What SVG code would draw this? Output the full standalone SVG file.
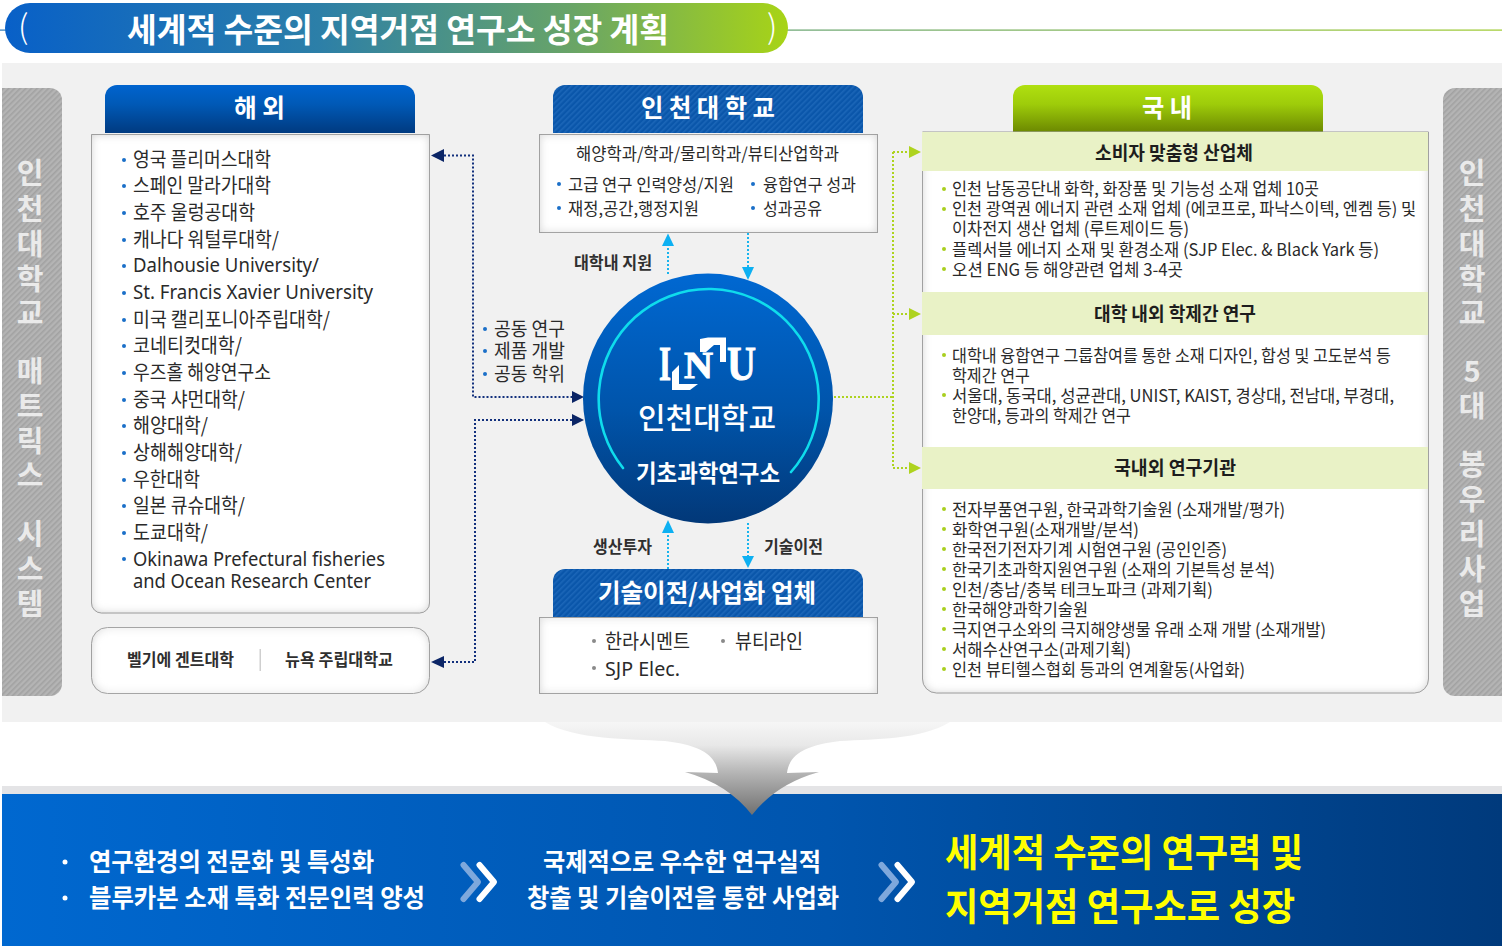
<svg xmlns="http://www.w3.org/2000/svg" width="1504" height="946" viewBox="0 0 1504 946">
<style>
text{font-family:"Noto Sans CJK KR","Noto Sans",sans-serif;fill:#2a2a2a}
.lat{font-family:"Noto Sans","Noto Sans CJK KR",sans-serif}
.li{font-size:20px}
.m{font-size:17px}
.hd{font-size:25px;font-weight:700;fill:#fff}
.bh{font-size:19px;font-weight:700;fill:#1d1d1d}
.lb{font-size:16.5px;font-weight:700;fill:#2f2f2f}
.side{font-size:29px;font-weight:700;fill:#eaeaea;text-anchor:middle}
.w{font-size:25px;font-weight:700;fill:#fff}
.y{font-size:38px;font-weight:700;fill:#ffff00}
.panel{fill:#fff;stroke:#a9a9a9;stroke-width:1;filter:url(#inner)}
.bb{fill:#1b6fc8}.bg{fill:#a9cf1f}.bk{fill:#8a8a8a}
.band{fill:#e9f2c6}
.dn{fill:none;stroke:#12307d;stroke-width:2;stroke-dasharray:2 2}
.dc{fill:none;stroke:#19b4ee;stroke-width:2;stroke-dasharray:2 2}
.dg{fill:none;stroke:#aed31f;stroke-width:2;stroke-dasharray:2 2}
.an{fill:#0b2566}.ac{fill:#0db0f2}.ag{fill:#aed31f}
.che1{fill:none;stroke:#7ea8dc;stroke-width:6;stroke-linecap:round;stroke-linejoin:round}
.che2{fill:none;stroke:#fff;stroke-width:6;stroke-linecap:round;stroke-linejoin:round}
.logo{font-family:"Liberation Serif",serif;font-weight:700;fill:#fff;stroke:#fff;stroke-width:1}
</style>
<defs>
<linearGradient id="gTitle" x1="0" x2="1" y1="0" y2="0"><stop offset="0" stop-color="#0860c8"/><stop offset=".4" stop-color="#2c7fa8"/><stop offset=".72" stop-color="#68a468"/><stop offset="1" stop-color="#a8d416"/></linearGradient>
<linearGradient id="gLine" x1="0" x2="1" y1="0" y2="0"><stop offset="0" stop-color="#2a78b8"/><stop offset="1" stop-color="#9cc92c"/></linearGradient>
<linearGradient id="gBlueH" x1="0" x2="0" y1="0" y2="1"><stop offset="0" stop-color="#0064cf"/><stop offset=".4" stop-color="#0059b6"/><stop offset="1" stop-color="#003a80"/></linearGradient>
<linearGradient id="gGreenH" x1="0" x2="0" y1="0" y2="1"><stop offset="0" stop-color="#b0e010"/><stop offset=".4" stop-color="#9ecc0a"/><stop offset="1" stop-color="#6a8600"/></linearGradient>
<linearGradient id="gCircle" x1="0" x2="0" y1="0" y2="1"><stop offset="0" stop-color="#0068d2"/><stop offset=".55" stop-color="#0054aa"/><stop offset="1" stop-color="#023878"/></linearGradient>
<linearGradient id="gBottom" x1="0" x2="1" y1="0" y2="0"><stop offset="0" stop-color="#0068d0"/><stop offset=".55" stop-color="#0055ae"/><stop offset="1" stop-color="#003a7c"/></linearGradient>
<linearGradient id="gFunnel" x1="0" x2="0" y1="722" y2="815" gradientUnits="userSpaceOnUse"><stop offset="0" stop-color="#f6f6f6"/><stop offset=".25" stop-color="#e8e8e8"/><stop offset=".55" stop-color="#b4b4b4"/><stop offset="1" stop-color="#707070"/></linearGradient>
<pattern id="hGrey" width="4" height="4" patternUnits="userSpaceOnUse" patternTransform="rotate(45)"><rect width="4" height="4" fill="#b4b4b4"/><rect width="1.6" height="4" fill="#a2a2a2"/></pattern>
<pattern id="hBlue" width="4" height="4" patternUnits="userSpaceOnUse" patternTransform="rotate(45)"><rect width="4" height="4" fill="#0a56aa"/><rect width="1.6" height="4" fill="#1b66b8"/></pattern>
<filter id="inner" x="-5%" y="-5%" width="110%" height="110%"><feComponentTransfer in="SourceAlpha" result="inv"><feFuncA type="table" tableValues="1 0"/></feComponentTransfer><feGaussianBlur in="inv" stdDeviation="5" result="b"/><feFlood flood-color="#888" flood-opacity=".55"/><feComposite in2="b" operator="in"/><feComposite in2="SourceAlpha" operator="in" result="s"/><feMerge><feMergeNode in="SourceGraphic"/><feMergeNode in="s"/></feMerge></filter>
<g id="chev"><path class="che1" d="M463.500 865L478 882L463.500 899"/><path class="che2" d="M479.500 865L494 882L479.500 899"/></g>
</defs>

<rect width="1504" height="946" fill="#fff"/>
<g id="title">
<rect x="0" y="29.500" width="1502" height="1.200" fill="url(#gLine)"/>
<rect x="5" y="3" width="783" height="50" rx="25" fill="url(#gTitle)"/>
<text x="18" y="39" font-size="33" font-weight="300" style="fill:#fff">(</text>
<text x="767" y="39" font-size="33" font-weight="300" style="fill:#fff">)</text>
<text x="127" y="42" font-size="33" font-weight="700" style="fill:#fff" textLength="542" lengthAdjust="spacingAndGlyphs">세계적 수준의 지역거점 연구소 성장 계획</text>
</g>
<rect id="stage" x="2" y="63" width="1500" height="659" fill="#f1f1f1"/>

<g id="side-left">
<path d="M2 88H50a12 12 0 0 1 12 12V684a12 12 0 0 1-12 12H2Z" fill="url(#hGrey)"/>
<text class="side" x="30" y="184">인</text><text class="side" x="30" y="220">천</text><text class="side" x="30" y="255">대</text><text class="side" x="30" y="290">학</text><text class="side" x="30" y="324">교</text><text class="side" x="30" y="382">매</text><text class="side" x="30" y="417">트</text><text class="side" x="30" y="452">릭</text><text class="side" x="30" y="486">스</text><text class="side" x="30" y="545">시</text><text class="side" x="30" y="580">스</text><text class="side" x="30" y="615">템</text>
</g>
<g id="side-right">
<path d="M1502 88H1455a12 12 0 0 0-12 12V684a12 12 0 0 0 12 12H1502Z" fill="url(#hGrey)"/>
<text class="side" x="1472" y="184">인</text><text class="side" x="1472" y="220">천</text><text class="side" x="1472" y="255">대</text><text class="side" x="1472" y="290">학</text><text class="side" x="1472" y="324">교</text><text class="side" x="1472" y="382">5</text><text class="side" x="1472" y="417">대</text><text class="side" x="1472" y="475">봉</text><text class="side" x="1472" y="510">우</text><text class="side" x="1472" y="545">리</text><text class="side" x="1472" y="580">사</text><text class="side" x="1472" y="615">업</text>
</g>

<g id="overseas">
<path d="M105 133V97a12 12 0 0 1 12-12H403a12 12 0 0 1 12 12V133Z" fill="url(#gBlueH)"/>
<text class="hd" x="234" y="117" textLength="51" lengthAdjust="spacingAndGlyphs">해 외</text>
<path class="panel" d="M91.500 134.500H429.500V603a10 10 0 0 1-10 10H101.500a10 10 0 0 1-10-10Z"/>
<g class="bb"><circle cx="124" cy="160" r="2"/><circle cx="124" cy="186" r="2"/><circle cx="124" cy="213" r="2"/><circle cx="124" cy="240" r="2"/><circle cx="124" cy="266" r="2"/><circle cx="124" cy="293" r="2"/><circle cx="124" cy="320" r="2"/><circle cx="124" cy="346" r="2"/><circle cx="124" cy="373" r="2"/><circle cx="124" cy="400" r="2"/><circle cx="124" cy="426" r="2"/><circle cx="124" cy="453" r="2"/><circle cx="124" cy="480" r="2"/><circle cx="124" cy="506" r="2"/><circle cx="124" cy="533" r="2"/><circle cx="124" cy="559" r="2"/></g>
<g>
<text class="li" x="133" y="167" textLength="138" lengthAdjust="spacingAndGlyphs">영국 플리머스대학</text>
<text class="li" x="133" y="193" textLength="138" lengthAdjust="spacingAndGlyphs">스페인 말라가대학</text>
<text class="li" x="133" y="220" textLength="122" lengthAdjust="spacingAndGlyphs">호주 울렁공대학</text>
<text class="li" x="133" y="247" textLength="146" lengthAdjust="spacingAndGlyphs">캐나다 워털루대학/</text>
<text class="li lat" x="133" y="272" textLength="186" lengthAdjust="spacingAndGlyphs">Dalhousie University/</text>
<text class="li lat" x="133" y="299" textLength="240" lengthAdjust="spacingAndGlyphs">St. Francis Xavier University</text>
<text class="li" x="133" y="327" textLength="197" lengthAdjust="spacingAndGlyphs">미국 캘리포니아주립대학/</text>
<text class="li" x="133" y="353" textLength="109" lengthAdjust="spacingAndGlyphs">코네티컷대학/</text>
<text class="li" x="133" y="380" textLength="138" lengthAdjust="spacingAndGlyphs">우즈홀 해양연구소</text>
<text class="li" x="133" y="407" textLength="112" lengthAdjust="spacingAndGlyphs">중국 샤먼대학/</text>
<text class="li" x="133" y="433" textLength="75" lengthAdjust="spacingAndGlyphs">해양대학/</text>
<text class="li" x="133" y="460" textLength="109" lengthAdjust="spacingAndGlyphs">상해해양대학/</text>
<text class="li" x="133" y="487" textLength="67" lengthAdjust="spacingAndGlyphs">우한대학</text>
<text class="li" x="133" y="513" textLength="112" lengthAdjust="spacingAndGlyphs">일본 큐슈대학/</text>
<text class="li" x="133" y="540" textLength="75" lengthAdjust="spacingAndGlyphs">도쿄대학/</text>
<text class="li lat" x="133" y="566" textLength="252" lengthAdjust="spacingAndGlyphs">Okinawa Prefectural fisheries</text>
<text class="li lat" x="133" y="588" textLength="238" lengthAdjust="spacingAndGlyphs">and Ocean Research Center</text>
</g>
</g>

<g id="overseas-2">
<rect class="panel" x="91.500" y="627.500" width="338" height="66" rx="16"/>
<text class="lb" x="127" y="666" textLength="107" lengthAdjust="spacingAndGlyphs">벨기에 겐트대학</text>
<rect x="259.500" y="649" width="1.500" height="22" fill="#cfcfcf"/>
<text class="lb" x="285" y="666" textLength="108" lengthAdjust="spacingAndGlyphs">뉴욕 주립대학교</text>
</g>

<g id="inu">
<path d="M553 133V97a12 12 0 0 1 12-12H851a12 12 0 0 1 12 12V133Z" fill="url(#hBlue)"/>
<text class="hd" x="641" y="117" textLength="134" lengthAdjust="spacingAndGlyphs">인 천 대 학 교</text>
<rect class="panel" x="539.500" y="134.500" width="338" height="98"/>
<text class="m" x="576" y="160" textLength="263" lengthAdjust="spacingAndGlyphs">해양학과/학과/물리학과/뷰티산업학과</text>
<g class="bb"><circle cx="559" cy="184" r="2"/><circle cx="559" cy="208" r="2"/><circle cx="753" cy="184" r="2"/><circle cx="753" cy="208" r="2"/></g>
<text class="m" x="568" y="191" textLength="166" lengthAdjust="spacingAndGlyphs">고급 연구 인력양성/지원</text>
<text class="m" x="568" y="215" textLength="131" lengthAdjust="spacingAndGlyphs">재정,공간,행정지원</text>
<text class="m" x="763" y="191" textLength="93" lengthAdjust="spacingAndGlyphs">융합연구 성과</text>
<text class="m" x="763" y="215" textLength="59" lengthAdjust="spacingAndGlyphs">성과공유</text>
</g>

<g id="domestic">
<path d="M1013 133V97a12 12 0 0 1 12-12H1311a12 12 0 0 1 12 12V133Z" fill="url(#gGreenH)"/>
<text class="hd" x="1142" y="117" textLength="50" lengthAdjust="spacingAndGlyphs">국 내</text>
<path class="panel" d="M922.500 132H1428.500V679a14 14 0 0 1-14 14H936.500a14 14 0 0 1-14-14Z"/>
<rect class="band" x="922" y="132" width="506" height="39"/>
<rect class="band" x="922" y="292" width="506" height="43"/>
<rect class="band" x="922" y="447" width="506" height="42"/>
<text class="bh" x="1095" y="160" textLength="158" lengthAdjust="spacingAndGlyphs">소비자 맞춤형 산업체</text>
<text class="bh" x="1094" y="321" textLength="162" lengthAdjust="spacingAndGlyphs">대학 내외 학제간 연구</text>
<text class="bh" x="1114" y="475" textLength="122" lengthAdjust="spacingAndGlyphs">국내외 연구기관</text>
<g class="bg"><circle cx="944" cy="189" r="2"/><circle cx="944" cy="209" r="2"/><circle cx="944" cy="249" r="2"/><circle cx="944" cy="269" r="2"/><circle cx="944" cy="355" r="2"/><circle cx="944" cy="395" r="2"/><circle cx="944" cy="509" r="2"/><circle cx="944" cy="529" r="2"/><circle cx="944" cy="549" r="2"/><circle cx="944" cy="569" r="2"/><circle cx="944" cy="589" r="2"/><circle cx="944" cy="609" r="2"/><circle cx="944" cy="629" r="2"/><circle cx="944" cy="649" r="2"/><circle cx="944" cy="669" r="2"/></g>
<text class="m" x="952" y="195" textLength="367" lengthAdjust="spacingAndGlyphs">인천 남동공단내 화학, 화장품 및 기능성 소재 업체 10곳</text>
<text class="m" x="952" y="215" textLength="464" lengthAdjust="spacingAndGlyphs">인천 광역권 에너지 관련 소재 업체 (에코프로, 파낙스이텍, 엔켐 등) 및</text>
<text class="m" x="952" y="235" textLength="237" lengthAdjust="spacingAndGlyphs">이차전지 생산 업체 (루트제이드 등)</text>
<text class="m" x="952" y="255.500" textLength="427" lengthAdjust="spacingAndGlyphs">플렉서블 에너지 소재 및 환경소재 (SJP Elec. &amp; Black Yark 등)</text>
<text class="m" x="952" y="275.500" textLength="231" lengthAdjust="spacingAndGlyphs">오션 ENG 등 해양관련 업체 3-4곳</text>
<text class="m" x="952" y="362" textLength="439" lengthAdjust="spacingAndGlyphs">대학내 융합연구 그룹참여를 통한 소재 디자인, 합성 및 고도분석 등</text>
<text class="m" x="952" y="382" textLength="78" lengthAdjust="spacingAndGlyphs">학제간 연구</text>
<text class="m" x="952" y="402" textLength="442" lengthAdjust="spacingAndGlyphs">서울대, 동국대, 성균관대, UNIST, KAIST, 경상대, 전남대, 부경대,</text>
<text class="m" x="952" y="422" textLength="179" lengthAdjust="spacingAndGlyphs">한양대, 등과의 학제간 연구</text>
<text class="m" x="952" y="516" textLength="333" lengthAdjust="spacingAndGlyphs">전자부품연구원, 한국과학기술원 (소재개발/평가)</text>
<text class="m" x="952" y="536" textLength="187" lengthAdjust="spacingAndGlyphs">화학연구원(소재개발/분석)</text>
<text class="m" x="952" y="556" textLength="275" lengthAdjust="spacingAndGlyphs">한국전기전자기계 시험연구원 (공인인증)</text>
<text class="m" x="952" y="576" textLength="323" lengthAdjust="spacingAndGlyphs">한국기초과학지원연구원 (소재의 기본특성 분석)</text>
<text class="m" x="952" y="596" textLength="261" lengthAdjust="spacingAndGlyphs">인천/충남/충북 테크노파크 (과제기획)</text>
<text class="m" x="952" y="616" textLength="136" lengthAdjust="spacingAndGlyphs">한국해양과학기술원</text>
<text class="m" x="952" y="636" textLength="374" lengthAdjust="spacingAndGlyphs">극지연구소와의 극지해양생물 유래 소재 개발 (소재개발)</text>
<text class="m" x="952" y="656" textLength="179" lengthAdjust="spacingAndGlyphs">서해수산연구소(과제기획)</text>
<text class="m" x="952" y="676" textLength="293" lengthAdjust="spacingAndGlyphs">인천 뷰티헬스협회 등과의 연계활동(사업화)</text>
</g>

<g id="company">
<path d="M553 617V581a12 12 0 0 1 12-12H851a12 12 0 0 1 12 12V617Z" fill="url(#hBlue)"/>
<text class="hd" x="598" y="602" textLength="218" lengthAdjust="spacingAndGlyphs">기술이전/사업화 업체</text>
<rect class="panel" x="539.500" y="617.500" width="338" height="76"/>
<g class="bk"><circle cx="594" cy="641" r="2"/><circle cx="723" cy="641" r="2"/><circle cx="594" cy="668" r="2"/></g>
<text class="li" x="605" y="649" textLength="85" lengthAdjust="spacingAndGlyphs">한라시멘트</text>
<text class="li" x="735" y="649" textLength="68" lengthAdjust="spacingAndGlyphs">뷰티라인</text>
<text class="li lat" x="605" y="675.500" textLength="75" lengthAdjust="spacingAndGlyphs">SJP Elec.</text>
</g>

<g id="connectors">
<path class="dn" d="M444 155.500H473V397H572"/>
<path class="dn" d="M572 420H475V662H444"/>
<path class="dc" d="M668 274V246"/>
<path class="dc" d="M748 233V268"/>
<path class="dc" d="M668 569V533"/>
<path class="dc" d="M748 523V557"/>
<path class="dg" d="M834 397H893M893 152V468M893 152H910M893 314H910M893 468H910"/>
<path class="an" d="M431 155.500L444 149V162Z"/>
<path class="an" d="M431 662L444 656V668Z"/>
<path class="an" d="M584 397L572 391V403Z"/>
<path class="an" d="M584 420L572 414V426Z"/>
<path class="ac" d="M668 233.500L674 246H662Z"/>
<path class="ac" d="M748 280L742 267H754Z"/>
<path class="ac" d="M668 520L674 533H662Z"/>
<path class="ac" d="M748 568L742 556H754Z"/>
<path class="ag" d="M921 152L909 146V158Z"/>
<path class="ag" d="M921 314L909 308V320Z"/>
<path class="ag" d="M921 468L909 462V474Z"/>
</g>

<g id="labels">
<g class="bb"><circle cx="485" cy="329" r="2"/><circle cx="485" cy="351" r="2"/><circle cx="485" cy="374" r="2"/></g>
<text x="494" y="336" font-size="19" textLength="71" lengthAdjust="spacingAndGlyphs">공동 연구</text>
<text x="494" y="358" font-size="19" textLength="71" lengthAdjust="spacingAndGlyphs">제품 개발</text>
<text x="494" y="381" font-size="19" textLength="71" lengthAdjust="spacingAndGlyphs">공동 학위</text>
<text class="lb" x="574" y="269" textLength="78" lengthAdjust="spacingAndGlyphs">대학내 지원</text>
<text class="lb" x="593" y="553" textLength="59" lengthAdjust="spacingAndGlyphs">생산투자</text>
<text class="lb" x="764" y="553" textLength="59" lengthAdjust="spacingAndGlyphs">기술이전</text>
</g>

<g id="center">
<circle cx="708" cy="398.500" r="125" fill="url(#gCircle)"/>
<path d="M623 468A110 110 0 1 1 791 472" fill="none" stroke="#0fdcec" stroke-width="2.600" stroke-linecap="round"/>
<g id="logo">
<text class="logo" x="659" y="380" font-size="49" textLength="12" lengthAdjust="spacingAndGlyphs">I</text>
<text class="logo" x="684" y="378" font-size="38" textLength="29" lengthAdjust="spacingAndGlyphs">N</text>
<text class="logo" x="727" y="380" font-size="49" textLength="29" lengthAdjust="spacingAndGlyphs">U</text>
<path d="M700 339L708 337.500H726V362L720 362V345H714L706 352L700 352Z" fill="#fff"/>
<path d="M672 390H690L698 384H679V365L672 372Z" fill="#fff"/>
</g>
<text x="638" y="429" font-size="29" font-weight="500" style="fill:#fff" textLength="138" lengthAdjust="spacingAndGlyphs">인천대학교</text>
<text x="636" y="482" font-size="24" font-weight="700" style="fill:#fff" textLength="144" lengthAdjust="spacingAndGlyphs">기초과학연구소</text>
</g>

<rect x="2" y="786" width="1500" height="8" fill="#e4e4e6"/>
<g id="result">
<rect x="2" y="794" width="1500" height="152" fill="url(#gBottom)"/>
<path id="funnel" d="M545 722C575 740 630 739 665 741C700 745 716 755 718 773L685 772Q728 784 752 815Q776 784 819 772L787 773C789 755 805 745 840 741C875 739 920 740 950 722Z" fill="url(#gFunnel)"/>
<g fill="#fff"><circle cx="65" cy="862" r="2.500"/><circle cx="65" cy="898" r="2.500"/></g>
<text class="w" x="89" y="871" textLength="285" lengthAdjust="spacingAndGlyphs">연구환경의 전문화 및 특성화</text>
<text class="w" x="89" y="907" textLength="336" lengthAdjust="spacingAndGlyphs">블루카본 소재 특화 전문인력 양성</text>
<use href="#chev"/>
<text class="w" x="543" y="871" textLength="278" lengthAdjust="spacingAndGlyphs">국제적으로 우수한 연구실적</text>
<text class="w" x="527" y="907" textLength="312" lengthAdjust="spacingAndGlyphs">창출 및 기술이전을 통한 사업화</text>
<use href="#chev" x="418"/>
<text class="y" x="945" y="866" textLength="358" lengthAdjust="spacingAndGlyphs">세계적 수준의 연구력 및</text>
<text class="y" x="945" y="920" textLength="350" lengthAdjust="spacingAndGlyphs">지역거점 연구소로 성장</text>
</g>
</svg>
